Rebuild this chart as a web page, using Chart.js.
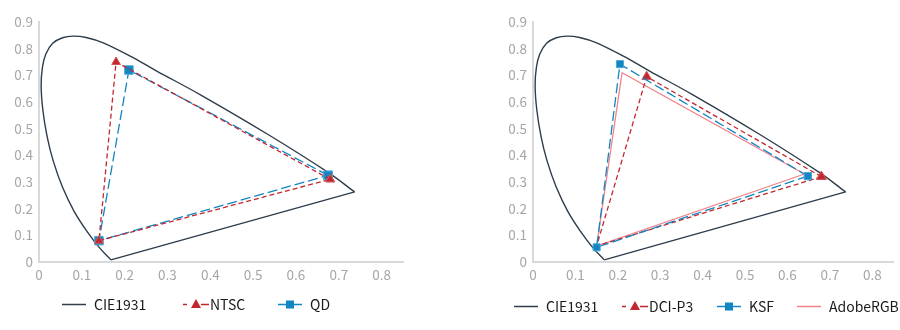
<!DOCTYPE html>
<html>
<head>
<meta charset="utf-8">
<script src="https://cdn.jsdelivr.net/npm/chart.js@4.4.1/dist/chart.umd.min.js"></script>
<style>
body { margin: 0; background: #fff; }
#wrap { position: relative; width: 900px; height: 330px; overflow: hidden; }
canvas.plot { position: absolute; top: 0; }
.item { position: absolute; display: flex; align-items: center; white-space: nowrap; height: 18px;
        font: 14px "Noto Sans CJK SC", "Noto Sans", sans-serif; color: #1a1a1a; }
</style>
</head>
<body>
<div id="wrap">
  <canvas id="leftChart" class="plot" width="450" height="330" style="left:0"></canvas>
  <canvas id="rightChart" class="plot" width="450" height="330" style="left:450px"></canvas>
</div>
<script>
// CIE 1931 horseshoe: from the blue end up the left edge, over the top, down to the red corner
const cieX = [0.168, 0.143, 0.112, 0.082, 0.055, 0.033, 0.019, 0.009, 0.005, 0.008, 0.016, 0.032, 0.055, 0.080, 0.110, 0.150, 0.213, 0.275, 0.377, 0.533, 0.675, 0.737];
const cieY = [0.008, 0.050, 0.115, 0.190, 0.280, 0.380, 0.470, 0.570, 0.660, 0.730, 0.780, 0.820, 0.841, 0.847, 0.842, 0.822, 0.772, 0.716, 0.627, 0.480, 0.336, 0.263];
// straight purple edge, red corner back to the blue end
const purpleX = [0.737, 0.168];
const purpleY = [0.263, 0.008];

// primaries in R, G, B order
const ntscX = [0.680, 0.180, 0.140];
const ntscY = [0.310, 0.750, 0.080];
const qdX = [0.675, 0.210, 0.140];
const qdY = [0.325, 0.720, 0.080];

const p3X = [0.680, 0.268, 0.150];
const p3Y = [0.320, 0.695, 0.060];
const ksfX = [0.648, 0.205, 0.150];
const ksfY = [0.322, 0.742, 0.055];
const adobeX = [0.640, 0.210, 0.150];
const adobeY = [0.330, 0.710, 0.060];

const xTicks = [0, 0.1, 0.2, 0.3, 0.4, 0.5, 0.6, 0.7, 0.8];
const yTicks = [0, 0.1, 0.2, 0.3, 0.4, 0.5, 0.6, 0.7, 0.8, 0.9];

const C_CIE = '#2e3d4b';
const C_RED = '#c4262e';
const C_BLUE = '#1186c2';
const C_PINK = '#f2838a';

const pts = (xs, ys) => xs.map((x, i) => ({ x: x, y: ys[i] }));
const closed = (xs, ys) => { const p = pts(xs, ys); p.push(p[0]); return p; };

const tickFont = { family: '"Noto Sans CJK SC", "Noto Sans", sans-serif', size: 13.5 };

function cieSets() {
  return [
    { label: 'CIE1931', data: pts(cieX, cieY), borderColor: C_CIE, borderWidth: 1.4,
      tension: 0.35, pointRadius: 0, showLine: true, order: 5 },
    { label: 'purple', data: pts(purpleX, purpleY), borderColor: C_CIE, borderWidth: 1.4,
      pointRadius: 0, showLine: true, order: 6 }
  ];
}

function scalesFor(yWidth) {
  return {
    x: {
      type: 'linear', min: 0, max: 0.85,
      afterBuildTicks: s => { s.ticks = xTicks.map(v => ({ value: v })); },
      afterFit: s => { s.height = 68; },
      grid: { display: false, drawTicks: false },
      border: { color: '#d9d9d9', width: 2 },
      ticks: { color: '#a6a6a6', font: tickFont, padding: 5, maxRotation: 0, autoSkip: false,
               callback: v => String(+v.toFixed(1)) }
    },
    y: {
      type: 'linear', min: 0, max: 0.9,
      afterBuildTicks: s => { s.ticks = yTicks.map(v => ({ value: v })); },
      afterFit: s => { s.width = yWidth; },
      grid: { display: false, drawTicks: false },
      border: { color: '#d9d9d9', width: 2 },
      ticks: { color: '#a6a6a6', font: tickFont, padding: 6, autoSkip: false,
               callback: v => String(+v.toFixed(1)) }
    }
  };
}

function makeChart(id, datasets, yWidth, padRight) {
  return new Chart(document.getElementById(id), {
    type: 'scatter',
    data: { datasets: datasets },
    options: {
      responsive: false,
      animation: false,
      devicePixelRatio: 1,
      layout: { padding: { top: 22, right: padRight, left: 0, bottom: 0 } },
      plugins: { legend: { display: false }, tooltip: { enabled: false } },
      scales: scalesFor(yWidth)
    }
  });
}

const leftChart = makeChart('leftChart', [
  { label: 'NTSC', data: closed(ntscX, ntscY), borderColor: C_RED, borderWidth: 1.3, borderDash: [5, 3],
    showLine: true, pointStyle: 'triangle', pointRadius: 5, pointBackgroundColor: C_RED,
    pointBorderColor: '#d0545a', pointBorderWidth: 1, order: 1 },
  { label: 'QD', data: closed(qdX, qdY), borderColor: C_BLUE, borderWidth: 1.3, borderDash: [10, 4],
    showLine: true, pointStyle: 'rect', pointRadius: 6, pointBackgroundColor: C_BLUE,
    pointBorderColor: '#4ea6d4', pointBorderWidth: 1, order: 2 },
  ...cieSets()
], 39, 47);

const rightChart = makeChart('rightChart', [
  { label: 'KSF', data: closed(ksfX, ksfY), borderColor: C_BLUE, borderWidth: 1.3, borderDash: [10, 4],
    showLine: true, pointStyle: 'rect', pointRadius: 5, pointBackgroundColor: C_BLUE,
    pointBorderColor: '#4ea6d4', pointBorderWidth: 1, order: 1 },
  { label: 'DCI-P3', data: closed(p3X, p3Y), borderColor: C_RED, borderWidth: 1.3, borderDash: [5, 3],
    showLine: true, pointStyle: 'triangle', pointRadius: [5.5, 5.5, 0, 5.5], pointBackgroundColor: C_RED,
    pointBorderColor: '#d0545a', pointBorderWidth: 1, order: 2 },
  { label: 'AdobeRGB', data: closed(adobeX, adobeY), borderColor: C_PINK, borderWidth: 1.3,
    showLine: true, pointRadius: 0, order: 3 },
  ...cieSets()
], 83, 6);

// legend keys: short line with the series marker in the middle
function keyCanvas(ds, w) {
  const c = document.createElement('canvas');
  c.width = w; c.height = 14;
  const g = c.getContext('2d');
  const dashedTri = ds.pointStyle === 'triangle' && ds.borderDash;
  g.strokeStyle = ds.borderColor;
  g.lineWidth = 1.5;
  if (dashedTri) g.setLineDash([4, 14]);
  g.beginPath(); g.moveTo(0, 7.5); g.lineTo(w, 7.5); g.stroke();
  if (dashedTri) {
    g.beginPath(); g.moveTo(w - 4, 7.5); g.lineTo(w, 7.5); g.stroke();
  }
  g.setLineDash([]);
  g.fillStyle = ds.pointBackgroundColor;
  if (ds.pointStyle === 'triangle') {
    g.beginPath(); g.moveTo(w / 2, 2); g.lineTo(w / 2 + 5, 11); g.lineTo(w / 2 - 5, 11); g.closePath(); g.fill();
  } else if (ds.pointStyle === 'rect') {
    g.fillRect(w / 2 - 4, 3.5, 8, 8);
  }
  return c;
}

function addLegend(chart, offsetX, top, lefts) {
  const wrap = document.getElementById('wrap');
  const order = ['CIE1931', 'NTSC', 'QD', 'DCI-P3', 'KSF', 'AdobeRGB'];
  const shown = chart.data.datasets.filter(d => order.includes(d.label))
    .sort((a, b) => order.indexOf(a.label) - order.indexOf(b.label));
  shown.forEach((ds, i) => {
    const item = document.createElement('div');
    item.className = 'item';
    item.style.left = (offsetX + lefts[i]) + 'px';
    item.style.top = top + 'px';
    const tri = ds.pointStyle === 'triangle';
    const key = keyCanvas(ds, tri ? 26 : 24);
    const txt = document.createElement('span');
    txt.textContent = ds.label;
    txt.style.marginLeft = tri ? '1px' : '8px';
    item.appendChild(key);
    item.appendChild(txt);
    wrap.appendChild(item);
  });
}

addLegend(leftChart, 0, 295, [62, 183, 278]);
addLegend(rightChart, 450, 297, [64, 172, 267, 347]);
</script>
</body>
</html>
